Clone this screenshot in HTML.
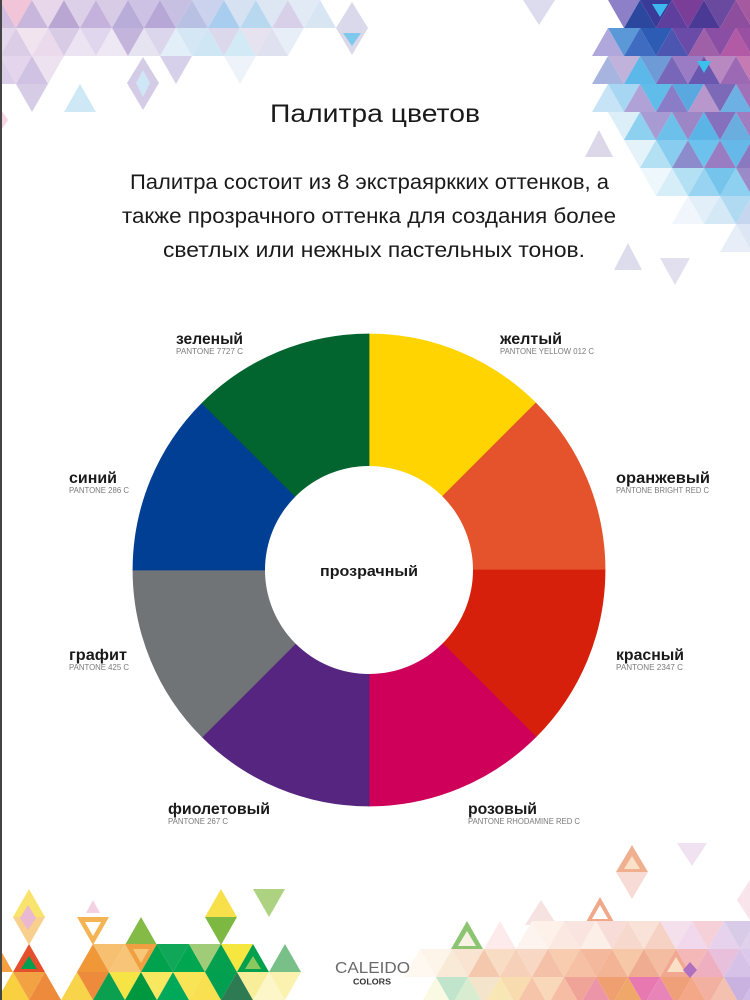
<!DOCTYPE html>
<html><head><meta charset="utf-8"><style>
html,body{margin:0;padding:0;background:#fff;}
svg{display:block;}
text{font-family:"Liberation Sans","Noto Sans CJK SC",sans-serif;}
</style></head><body>
<svg width="750" height="1000" viewBox="0 0 750 1000" xmlns="http://www.w3.org/2000/svg">
<defs>
<polygon id="u" points="0,28 16,0 32,28"/>
<polygon id="d" points="0,0 16,28 32,0"/>
</defs>
<rect width="750" height="1000" fill="#fff"/>

<!-- top-left decor -->
<g>
<use href="#u" x="-16" y="0" fill="#d2bfe0"/><use href="#d" x="0" y="0" fill="#f2c4d8"/><use href="#u" x="16" y="0" fill="#c8b6dc"/><use href="#d" x="32" y="0" fill="#e8d6ea"/><use href="#u" x="48" y="0" fill="#b9a6d3"/><use href="#d" x="64" y="0" fill="#dcd0e8"/><use href="#u" x="80" y="0" fill="#c4b2dc"/><use href="#d" x="96" y="0" fill="#d8cbe6"/><use href="#u" x="112" y="0" fill="#b8acd8"/><use href="#d" x="128" y="0" fill="#cdc2e4"/><use href="#u" x="144" y="0" fill="#b6a7d6"/><use href="#d" x="160" y="0" fill="#c8c0e2"/><use href="#u" x="176" y="0" fill="#b8c0e4"/><use href="#d" x="192" y="0" fill="#cbd2ee"/><use href="#u" x="208" y="0" fill="#a8cdee"/><use href="#d" x="224" y="0" fill="#d6e2f2"/><use href="#u" x="240" y="0" fill="#b8d8f0"/><use href="#d" x="256" y="0" fill="#dde6f3"/><use href="#u" x="272" y="0" fill="#d8d0e8"/><use href="#d" x="288" y="0" fill="#e2eaf5"/><use href="#u" x="304" y="0" fill="#d8e6f4"/>
<use href="#d" x="-16" y="28" fill="#e6d8ec"/><use href="#u" x="0" y="28" fill="#dccde6"/><use href="#d" x="16" y="28" fill="#f2e4ef"/><use href="#u" x="32" y="28" fill="#eadaec"/><use href="#d" x="48" y="28" fill="#d7cbe6"/><use href="#u" x="64" y="28" fill="#ece4f2"/><use href="#d" x="80" y="28" fill="#e0d6ee"/><use href="#u" x="96" y="28" fill="#eee8f4"/><use href="#d" x="112" y="28" fill="#c2b4da"/><use href="#u" x="128" y="28" fill="#e7e4f2"/><use href="#d" x="144" y="28" fill="#dcd6ec"/><use href="#u" x="160" y="28" fill="#e2eef8"/><use href="#d" x="176" y="28" fill="#d5e6f4"/><use href="#u" x="192" y="28" fill="#cfe6f4"/><use href="#d" x="208" y="28" fill="#dcd8ec"/><use href="#u" x="224" y="28" fill="#d2eaf6"/><use href="#d" x="240" y="28" fill="#e6e2f0"/><use href="#u" x="256" y="28" fill="#dfe0f0"/><use href="#d" x="272" y="28" fill="#e8eef8"/>
<use href="#u" x="-16" y="56" fill="#dccde8"/><use href="#d" x="0" y="56" fill="#e4d4ec"/><use href="#u" x="16" y="56" fill="#d0c2e2"/><use href="#d" x="32" y="56" fill="#ece2f0"/><use href="#d" x="160" y="56" fill="#d6d0ea"/><use href="#d" x="224" y="56" fill="#eef2f9"/>
<use href="#d" x="16" y="84" fill="#d6cce6"/><use href="#u" x="64" y="84" fill="#cfe8f6"/>
<polygon points="143,57 159,83 143,110 127,83" fill="#d4cce6"/>
<polygon points="143,70 150,83 143,97 136,83" fill="#cfe6f6"/>
<polygon points="0,108 8,120 0,132" fill="#f6d6e2"/>
<polygon points="352,2 368,28 352,55 336,28" fill="#d9d9eb"/>
<polygon points="343,33 361,33 352,46" fill="#7ec8ee"/>
<polygon points="523,0 555,0 539,25" fill="#dcdcee"/>
</g>

<!-- top-right decor -->
<g>
<use href="#d" x="608" y="0" fill="#8d80c8"/><use href="#u" x="624" y="0" fill="#2c489e"/><use href="#d" x="640" y="0" fill="#3a3a98"/><use href="#u" x="656" y="0" fill="#5e3f9e"/><use href="#d" x="672" y="0" fill="#7a3d98"/><use href="#u" x="688" y="0" fill="#4a3a96"/><use href="#d" x="704" y="0" fill="#6a4a9e"/><use href="#u" x="720" y="0" fill="#8e4e9e"/><use href="#d" x="736" y="0" fill="#a55aa0"/>
<polygon points="652,4 668,4 660,17" fill="#3cb8ee"/>
<use href="#u" x="592" y="28" fill="#b0a8dc"/><use href="#d" x="608" y="28" fill="#5a98d8"/><use href="#u" x="624" y="28" fill="#3f6cc0"/><use href="#d" x="640" y="28" fill="#2d5cb4"/><use href="#u" x="656" y="28" fill="#4c55b0"/><use href="#d" x="672" y="28" fill="#6a4ca8"/><use href="#u" x="688" y="28" fill="#a060a8"/><use href="#d" x="704" y="28" fill="#8a4ea4"/><use href="#u" x="720" y="28" fill="#b25aa5"/><use href="#d" x="736" y="28" fill="#9a50a2"/>
<use href="#u" x="592" y="56" fill="#a8b4e0"/><use href="#d" x="608" y="56" fill="#c0b2da"/><use href="#u" x="624" y="56" fill="#5cb8e8"/><use href="#d" x="640" y="56" fill="#6e9ad6"/><use href="#u" x="656" y="56" fill="#7866b8"/><use href="#d" x="672" y="56" fill="#9a7cc4"/><use href="#u" x="688" y="56" fill="#6a58b0"/><use href="#d" x="704" y="56" fill="#b888c0"/><use href="#u" x="720" y="56" fill="#9c6ab4"/><use href="#d" x="736" y="56" fill="#c67ab4"/>
<polygon points="697,61 711,61 704,73" fill="#3cc0ec"/>
<use href="#u" x="592" y="84" fill="#c6e4f6"/><use href="#d" x="608" y="84" fill="#a6d6f2"/><use href="#u" x="624" y="84" fill="#b0a2d6"/><use href="#d" x="640" y="84" fill="#60bce8"/><use href="#u" x="656" y="84" fill="#8a7cc6"/><use href="#d" x="672" y="84" fill="#5aa8e0"/><use href="#u" x="688" y="84" fill="#b898cc"/><use href="#d" x="704" y="84" fill="#7c6ab8"/><use href="#u" x="720" y="84" fill="#6cb0e4"/><use href="#d" x="736" y="84" fill="#a070b8"/>
<use href="#d" x="608" y="112" fill="#dceef8"/><use href="#u" x="624" y="112" fill="#8ed0f0"/><use href="#d" x="640" y="112" fill="#a89ad2"/><use href="#u" x="656" y="112" fill="#6cc0ea"/><use href="#d" x="672" y="112" fill="#9c86c6"/><use href="#u" x="688" y="112" fill="#5ab4e6"/><use href="#d" x="704" y="112" fill="#8470bc"/><use href="#u" x="720" y="112" fill="#6aaee0"/><use href="#d" x="736" y="112" fill="#a07cc0"/>
<use href="#d" x="624" y="140" fill="#e4f2fa"/><use href="#u" x="640" y="140" fill="#b4e0f4"/><use href="#d" x="656" y="140" fill="#88ccef"/><use href="#u" x="672" y="140" fill="#8c8ccc"/><use href="#d" x="688" y="140" fill="#6cc2ec"/><use href="#u" x="704" y="140" fill="#9a7cc2"/><use href="#d" x="720" y="140" fill="#66b8e8"/><use href="#u" x="736" y="140" fill="#8a78c0"/>
<use href="#d" x="640" y="168" fill="#eef7fc"/><use href="#u" x="656" y="168" fill="#d6eef8"/><use href="#d" x="672" y="168" fill="#b4e0f4"/><use href="#u" x="688" y="168" fill="#98d4f2"/><use href="#d" x="704" y="168" fill="#74c4ec"/><use href="#u" x="720" y="168" fill="#8ed0f0"/><use href="#d" x="736" y="168" fill="#9a8ac8"/>
<use href="#u" x="672" y="196" fill="#f0f6fb"/><use href="#d" x="688" y="196" fill="#e2eef8"/><use href="#u" x="704" y="196" fill="#d4e8f6"/><use href="#d" x="720" y="196" fill="#b0daf2"/><use href="#u" x="736" y="196" fill="#c6d6ee"/>
<use href="#u" x="720" y="224" fill="#e8eef8"/><use href="#d" x="736" y="224" fill="#dce6f4"/>
<polygon points="599,130 613,157 585,157" fill="#dcd8ea"/>
<polygon points="628,243 642,270 614,270" fill="#dcdcec"/>
<polygon points="660,258 690,258 675,285" fill="#e2e0ee"/>
</g>

<!-- bottom-left decor -->
<g>
<use href="#u" x="13" y="889" fill="#f8e46c"/><use href="#u" x="205" y="889" fill="#f8e04a"/><use href="#d" x="253" y="889" fill="#acd282"/>
<polygon points="86,913 93,900 100,913" fill="#f2d2e2"/>
<use href="#d" x="13" y="917" fill="#f8cf8c"/>
<polygon points="28,905 36,918 28,930 20,918" fill="#eab8d0"/>
<polygon points="77,917 109,917 93,945" fill="#f4b454"/>
<polygon points="85,922 101,922 93,936" fill="#fff"/>
<use href="#u" x="125" y="917" fill="#84ba46"/><use href="#d" x="205" y="917" fill="#7cb842"/>
<use href="#u" x="-19" y="944" fill="#f4a040"/><use href="#u" x="13" y="944" fill="#e4502c"/>
<polygon points="21,969 29,956 37,969" fill="#00a050"/>
<use href="#u" x="77" y="944" fill="#f09838"/><use href="#d" x="93" y="944" fill="#f6c070"/><use href="#u" x="109" y="944" fill="#f8c478"/><use href="#d" x="125" y="944" fill="#f0a040"/>
<polygon points="133,949 149,949 141,963" fill="#f8c878"/>
<use href="#u" x="141" y="944" fill="#00a24e"/><use href="#d" x="157" y="944" fill="#10a858"/><use href="#u" x="173" y="944" fill="#00a650"/><use href="#d" x="189" y="944" fill="#a0cc78"/><use href="#u" x="205" y="944" fill="#04a050"/><use href="#d" x="221" y="944" fill="#f6e640"/><use href="#u" x="237" y="944" fill="#00a04c"/>
<polygon points="245,969 253,956 261,969" fill="#8cc860"/>
<use href="#u" x="269" y="944" fill="#78c088"/>
<use href="#u" x="-3" y="972" fill="#f8d040"/><use href="#d" x="13" y="972" fill="#f2a242"/><use href="#u" x="29" y="972" fill="#ee8a3c"/><use href="#u" x="61" y="972" fill="#f8d44a"/><use href="#d" x="77" y="972" fill="#ee8a3c"/><use href="#u" x="93" y="972" fill="#0aa050"/><use href="#d" x="109" y="972" fill="#f6e444"/><use href="#u" x="125" y="972" fill="#00983e"/><use href="#d" x="141" y="972" fill="#f8e860"/><use href="#u" x="157" y="972" fill="#00a85a"/><use href="#d" x="173" y="972" fill="#f8e454"/><use href="#u" x="189" y="972" fill="#f8e050"/><use href="#d" x="205" y="972" fill="#00a050"/><use href="#u" x="221" y="972" fill="#2e7a52"/><use href="#d" x="237" y="972" fill="#f8ee9a"/><use href="#u" x="253" y="972" fill="#fdf6c8"/><use href="#d" x="269" y="972" fill="#fbf2b0"/>
</g>

<!-- bottom-right decor -->
<g>
<polygon points="632,845 648,872 616,872" fill="#f0b090"/>
<polygon points="632,856 640,869 624,869" fill="#f9e2c8"/>
<polygon points="616,872 648,872 632,899" fill="#f7dcd6"/>
<polygon points="677,843 707,843 692,866" fill="#f0e2f0"/>
<polygon points="541,900 557,925 525,925" fill="#f7e2e2"/>
<polygon points="600,897 614,922 586,922" fill="#f0a888"/>
<polygon points="600,905 608,919 592,919" fill="#fff"/>
<polygon points="750,880 737,900 750,920" fill="#f8e4ea"/>
<use href="#u" x="484" y="921" fill="#fcebea"/><use href="#u" x="516" y="921" fill="#fdf3ef"/><use href="#d" x="532" y="921" fill="#fdf1ea"/><use href="#u" x="548" y="921" fill="#fbe8e0"/><use href="#d" x="564" y="921" fill="#f9e4e0"/><use href="#u" x="580" y="921" fill="#fcefe8"/><use href="#d" x="596" y="921" fill="#f8dcd8"/><use href="#u" x="612" y="921" fill="#f6d8cc"/><use href="#d" x="628" y="921" fill="#f9e2d8"/><use href="#u" x="644" y="921" fill="#f6d2c4"/><use href="#d" x="660" y="921" fill="#f3e0ec"/><use href="#u" x="676" y="921" fill="#f2d8ec"/><use href="#d" x="692" y="921" fill="#f6d0d8"/><use href="#u" x="708" y="921" fill="#e6d2ec"/><use href="#d" x="724" y="921" fill="#d8cbe8"/><use href="#u" x="740" y="921" fill="#e0d0ec"/>
<polygon points="467,921 483,949 451,949" fill="#8cc472"/>
<polygon points="467,931 476,946 458,946" fill="#f6f2e4"/>
<use href="#u" x="404" y="949" fill="#fef8f0"/><use href="#d" x="420" y="949" fill="#fdf4ea"/><use href="#u" x="436" y="949" fill="#f9ead8"/><use href="#d" x="452" y="949" fill="#f8e4d0"/><use href="#u" x="468" y="949" fill="#f4c8ac"/><use href="#d" x="484" y="949" fill="#f8dcc4"/><use href="#u" x="500" y="949" fill="#f6d0b8"/><use href="#d" x="516" y="949" fill="#f8d8c4"/><use href="#u" x="532" y="949" fill="#f4c0a8"/><use href="#d" x="548" y="949" fill="#f8ccae"/><use href="#u" x="564" y="949" fill="#f6c0a4"/><use href="#d" x="580" y="949" fill="#f4b89c"/><use href="#u" x="596" y="949" fill="#f2b494"/><use href="#d" x="612" y="949" fill="#f6c8a8"/><use href="#u" x="628" y="949" fill="#f0ac90"/><use href="#d" x="644" y="949" fill="#f4bca0"/><use href="#u" x="660" y="949" fill="#f2a890"/><use href="#d" x="676" y="949" fill="#f4b8b8"/><use href="#u" x="692" y="949" fill="#eeb0c0"/><use href="#d" x="708" y="949" fill="#e8c0dc"/><use href="#u" x="724" y="949" fill="#d6c2e6"/><use href="#d" x="740" y="949" fill="#dcc8ea"/>
<polygon points="676,957 685,972 667,972" fill="#fbe0c8"/>
<use href="#u" x="420" y="977" fill="#fafae4"/><use href="#d" x="436" y="977" fill="#c0e4cc"/><use href="#u" x="452" y="977" fill="#d8ecd0"/><use href="#d" x="468" y="977" fill="#f4e4cc"/><use href="#u" x="484" y="977" fill="#f8e6b4"/><use href="#d" x="500" y="977" fill="#f8dcb0"/><use href="#u" x="516" y="977" fill="#f6c4a8"/><use href="#d" x="532" y="977" fill="#f8d8b8"/><use href="#u" x="548" y="977" fill="#f6bca4"/><use href="#d" x="564" y="977" fill="#f0a498"/><use href="#u" x="580" y="977" fill="#ec94a8"/><use href="#d" x="596" y="977" fill="#f0a070"/><use href="#u" x="612" y="977" fill="#f0a86a"/><use href="#d" x="628" y="977" fill="#e878b0"/><use href="#u" x="644" y="977" fill="#e884b8"/><use href="#d" x="660" y="977" fill="#f0a078"/><use href="#u" x="676" y="977" fill="#f4a888"/><use href="#d" x="692" y="977" fill="#f2b0a0"/><use href="#u" x="708" y="977" fill="#f4c0b0"/><use href="#d" x="724" y="977" fill="#cab2e0"/><use href="#u" x="740" y="977" fill="#d0bce6"/>
<polygon points="690,962 697,970 690,978 683,970" fill="#b070c0"/>
</g>

<!-- left border -->
<rect x="0" y="0" width="2" height="1000" fill="#444"/>

<!-- title & paragraph -->
<text x="270" y="122" font-size="25" fill="#1a1a1a" textLength="210" lengthAdjust="spacingAndGlyphs">Палитра цветов</text>
<text x="130" y="189" font-size="21" fill="#1a1a1a" textLength="479" lengthAdjust="spacingAndGlyphs">Палитра состоит из 8 экстраяркких оттенков, а</text>
<text x="122" y="223" font-size="21" fill="#1a1a1a" textLength="494" lengthAdjust="spacingAndGlyphs">также прозрачного оттенка для создания более</text>
<text x="163" y="257" font-size="21" fill="#1a1a1a" textLength="422" lengthAdjust="spacingAndGlyphs">светлых или нежных пастельных тонов.</text>

<!-- donut -->
<g stroke-width="0.8">
<path d="M369,570 L369,334 A236,236 0 0 1 535.88,403.12 Z" fill="#FFD400" stroke="#FFD400"/>
<path d="M369,570 L535.88,403.12 A236,236 0 0 1 605,570 Z" fill="#E4532B" stroke="#E4532B"/>
<path d="M369,570 L605,570 A236,236 0 0 1 535.88,736.88 Z" fill="#D6200B" stroke="#D6200B"/>
<path d="M369,570 L535.88,736.88 A236,236 0 0 1 369,806 Z" fill="#CF0059" stroke="#CF0059"/>
<path d="M369,570 L369,806 A236,236 0 0 1 202.12,736.88 Z" fill="#552580" stroke="#552580"/>
<path d="M369,570 L202.12,736.88 A236,236 0 0 1 133,570 Z" fill="#707477" stroke="#707477"/>
<path d="M369,570 L133,570 A236,236 0 0 1 202.12,403.12 Z" fill="#003F93" stroke="#003F93"/>
<path d="M369,570 L202.12,403.12 A236,236 0 0 1 369,334 Z" fill="#02652F" stroke="#02652F"/>
</g>
<circle cx="369" cy="570" r="104" fill="#fff"/>
<text x="320" y="576" font-size="15" font-weight="bold" fill="#1a1a1a" textLength="98" lengthAdjust="spacingAndGlyphs">прозрачный</text>

<!-- labels -->
<g font-weight="bold" font-size="16" fill="#1a1a1a">
<text x="176" y="344" textLength="67" lengthAdjust="spacingAndGlyphs">зеленый</text>
<text x="500" y="344" textLength="62" lengthAdjust="spacingAndGlyphs">желтый</text>
<text x="69" y="483" textLength="48" lengthAdjust="spacingAndGlyphs">синий</text>
<text x="616" y="483" textLength="94" lengthAdjust="spacingAndGlyphs">оранжевый</text>
<text x="69" y="660" textLength="58" lengthAdjust="spacingAndGlyphs">графит</text>
<text x="616" y="660" textLength="68" lengthAdjust="spacingAndGlyphs">красный</text>
<text x="168" y="814" textLength="102" lengthAdjust="spacingAndGlyphs">фиолетовый</text>
<text x="468" y="814" textLength="69" lengthAdjust="spacingAndGlyphs">розовый</text>
</g>
<g font-size="8" fill="#7a7a7a">
<text x="176" y="354" textLength="67" lengthAdjust="spacingAndGlyphs">PANTONE 7727 C</text>
<text x="500" y="354" textLength="94" lengthAdjust="spacingAndGlyphs">PANTONE YELLOW 012 C</text>
<text x="69" y="493" textLength="60" lengthAdjust="spacingAndGlyphs">PANTONE 286 C</text>
<text x="616" y="493" textLength="93" lengthAdjust="spacingAndGlyphs">PANTONE BRIGHT RED C</text>
<text x="69" y="670" textLength="60" lengthAdjust="spacingAndGlyphs">PANTONE 425 C</text>
<text x="616" y="670" textLength="67" lengthAdjust="spacingAndGlyphs">PANTONE 2347 C</text>
<text x="168" y="824" textLength="60" lengthAdjust="spacingAndGlyphs">PANTONE 267 C</text>
<text x="468" y="824" textLength="112" lengthAdjust="spacingAndGlyphs">PANTONE RHODAMINE RED C</text>
</g>

<!-- logo -->
<text x="335" y="973" font-size="16" fill="#6a6a6a" textLength="75" lengthAdjust="spacingAndGlyphs">CALEIDO</text>
<text x="353" y="984.5" font-size="8" font-weight="bold" fill="#333" textLength="38" lengthAdjust="spacingAndGlyphs">COLORS</text>
</svg>
</body></html>
